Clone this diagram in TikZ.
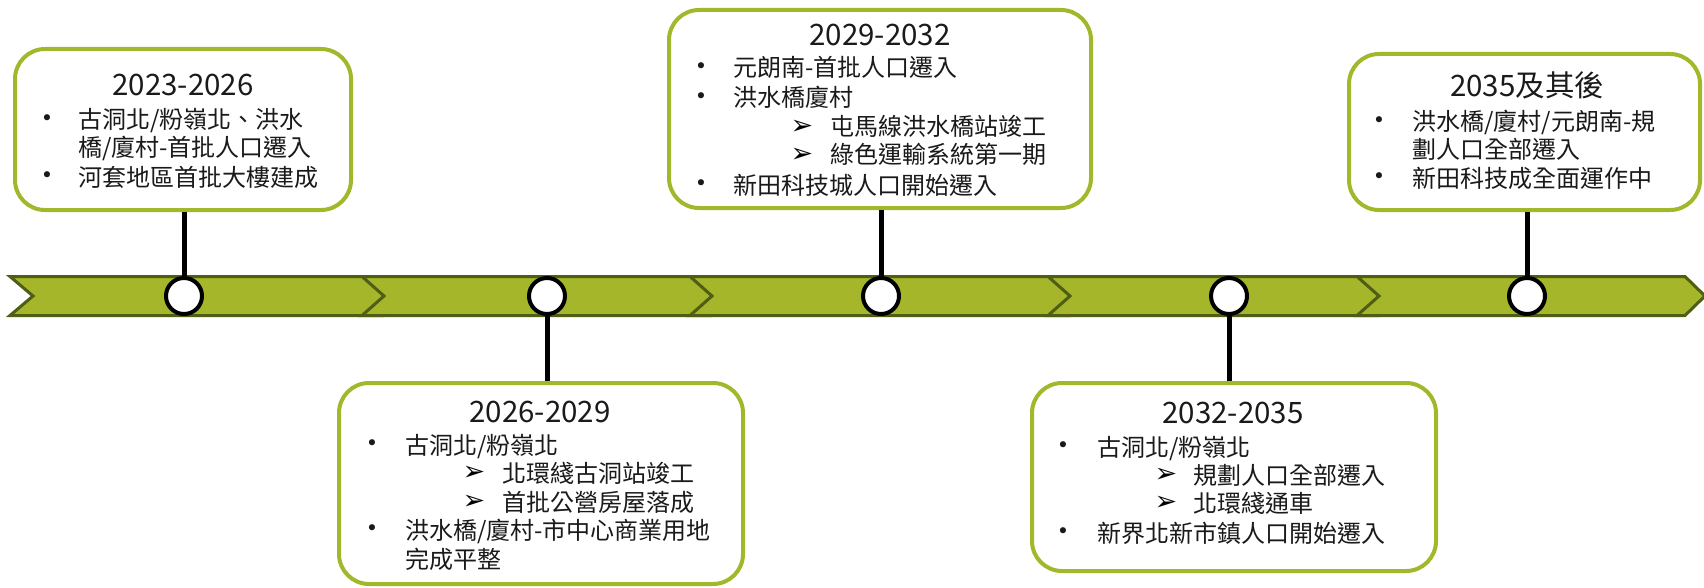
\documentclass[tikz,border=0pt]{standalone}
\usepackage{fontspec}
\setmainfont{Noto Sans CJK TC}
\newfontfamily\symf{DejaVu Sans}
\definecolor{bandfill}{HTML}{A5B62A}
\definecolor{banddraw}{HTML}{4E5E14}
\definecolor{boxdraw}{HTML}{A0B82A}
\definecolor{txtc}{HTML}{1A1A1A}
\begin{document}
\begin{tikzpicture}[x=1pt,y=-1pt,
  chev/.style={fill=bandfill,draw=banddraw,line width=3pt,line join=miter},
  tbox/.style={draw=boxdraw,fill=white,line width=4pt,rounded corners=30pt,inner sep=0pt},
  dot/.style={circle,draw=black,fill=white,line width=4pt,minimum size=36pt,inner sep=0pt},
  conn/.style={draw=black,line width=5pt},
  ttl/.style={anchor=base,inner sep=0pt,font=\fontsize{29.5}{29.5}\selectfont,text=txtc},
  txt/.style={anchor=base west,inner sep=0pt,font=\fontsize{24}{24}\selectfont,text=txtc},
  bul/.style={anchor=center,inner sep=0pt,font=\symf\fontsize{21}{21}\selectfont,text=txtc},
  arr/.style={anchor=center,inner sep=0pt,font=\symf\fontsize{27}{27}\selectfont,text=black}]
\useasboundingbox (0,0) rectangle (1704,588);
% band of chevrons
\def\bt{276.5}\def\bb{315.5}\def\bm{296}
\draw[chev] (10,\bt) -- (384,\bt) -- (406,\bm) -- (384,\bb) -- (10,\bb) -- (33,\bm) -- cycle;
\draw[chev] (362,\bt) -- (712,\bt) -- (734,\bm) -- (712,\bb) -- (362,\bb) -- (384,\bm) -- cycle;
\draw[chev] (690,\bt) -- (1070,\bt) -- (1092,\bm) -- (1070,\bb) -- (690,\bb) -- (712,\bm) -- cycle;
\draw[chev] (1048,\bt) -- (1379,\bt) -- (1401,\bm) -- (1379,\bb) -- (1048,\bb) -- (1070,\bm) -- cycle;
\draw[chev] (1357,\bt) -- (1685,\bt) -- (1705,\bm) -- (1685,\bb) -- (1357,\bb) -- (1379,\bm) -- cycle;
% boxes
\node[tbox,minimum width=336pt,minimum height=161pt] (b1) at (183,129.5) {};
\node[tbox,minimum width=404pt,minimum height=201pt] (b2) at (541,483.5) {};
\node[tbox,minimum width=422pt,minimum height=198pt] (b3) at (880,109) {};
\node[tbox,minimum width=404pt,minimum height=188pt] (b4) at (1234,477) {};
\node[tbox,minimum width=351pt,minimum height=156pt] (b5) at (1524.5,132) {};
% circles
\node[dot] (c1) at (184,296) {};
\node[dot] (c2) at (547,296) {};
\node[dot] (c3) at (881,296) {};
\node[dot] (c4) at (1229,296) {};
\node[dot] (c5) at (1527,296) {};
% connectors
\draw[conn] (c1.north) -- (c1.north |- b1.south);
\draw[conn] (c2.south) -- (c2.south |- b2.north);
\draw[conn] (c3.north) -- (c3.north |- b3.south);
\draw[conn] (c4.south) -- (c4.south |- b4.north);
\draw[conn] (c5.north) -- (c5.north |- b5.south);
% box 1 text
\node[ttl] (t1) at (183,96) {2023-2026};
\node[bul] (p1a) at (47,120) {•};
\node[txt] (l1a) at (78,129) {古洞北/粉嶺北、洪水};
\node[txt] (l1b) at (78,157) {橋/廈村-首批人口遷入};
\node[bul] (p1c) at (47,177) {•};
\node[txt] (l1c) at (78,186) {河套地區首批大樓建成};
% box 2 text
\node[ttl] (t2) at (540,422) {2026-2029};
\node[bul] (p2a) at (372,445) {•};
\node[txt] (l2a) at (405,454) {古洞北/粉嶺北};
\node[arr] (a2b) at (474,473) {➢};
\node[txt] (l2b) at (502,482) {北環綫古洞站竣工};
\node[arr] (a2c) at (474,502) {➢};
\node[txt] (l2c) at (502,511) {首批公營房屋落成};
\node[bul] (p2d) at (372,530) {•};
\node[txt] (l2d) at (405,539) {洪水橋/廈村-市中心商業用地};
\node[txt] (l2e) at (405,568) {完成平整};
% box 3 text
\node[ttl] (t3) at (880,46) {2029-2032};
\node[bul] (p3a) at (701,68) {•};
\node[txt] (l3a) at (733,77) {元朗南-首批人口遷入};
\node[bul] (p3b) at (701,98) {•};
\node[txt] (l3b) at (733,107) {洪水橋廈村};
\node[arr] (a3c) at (802,127) {➢};
\node[txt] (l3c) at (830,136) {屯馬線洪水橋站竣工};
\node[arr] (a3d) at (802,155) {➢};
\node[txt] (l3d) at (830,164) {綠色運輸系統第一期};
\node[bul] (p3e) at (701,185) {•};
\node[txt] (l3e) at (733,194) {新田科技城人口開始遷入};
% box 4 text
\node[ttl] (t4) at (1233,423) {2032-2035};
\node[bul] (p4a) at (1063,447) {•};
\node[txt] (l4a) at (1097,456) {古洞北/粉嶺北};
\node[arr] (a4b) at (1166,475) {➢};
\node[txt] (l4b) at (1193,484) {規劃人口全部遷入};
\node[arr] (a4c) at (1166,503) {➢};
\node[txt] (l4c) at (1193,512) {北環綫通車};
\node[bul] (p4d) at (1063,533) {•};
\node[txt] (l4d) at (1097,542) {新界北新市鎮人口開始遷入};
% box 5 text
\node[ttl] (t5) at (1527,97) {2035及其後};
\node[bul] (p5a) at (1379,122) {•};
\node[txt] (l5a) at (1412,131) {洪水橋/廈村/元朗南-規};
\node[txt] (l5b) at (1412,159) {劃人口全部遷入};
\node[bul] (p5c) at (1379,178) {•};
\node[txt] (l5c) at (1412,187) {新田科技成全面運作中};
\end{tikzpicture}
\end{document}
